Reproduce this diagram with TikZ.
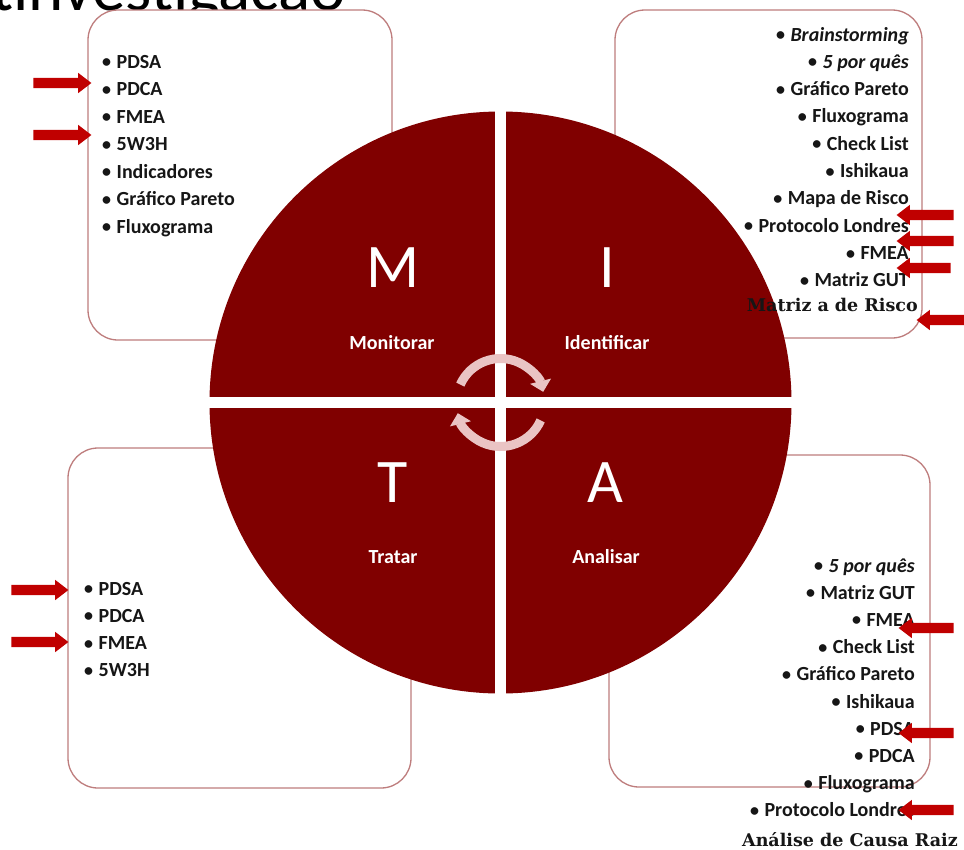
\documentclass[tikz,border=0pt]{standalone}
\usepackage{fontspec}
\setmainfont{Carlito}
\newfontfamily\serifnote{DejaVu Serif}
\usetikzlibrary{arrows.meta,shapes.arrows}
\definecolor{mitared}{RGB}{128,0,0}
\definecolor{boxline}{RGB}{190,125,125}
\definecolor{arred}{RGB}{192,0,0}
\definecolor{cyc}{RGB}{234,196,196}
\definecolor{txt}{RGB}{22,22,22}
\newcommand{\bul}{{\fontsize{18}{18}\selectfont\raisebox{0.5pt}{•}}\hspace{5.5pt}}
\tikzset{
 box/.style={draw=boxline, line width=1.3pt, rounded corners=30pt, fill=white, inner sep=0pt},
 quarter/.style={fill=mitared},
 letter/.style={text=white, font=\fontsize{62}{62}\selectfont, inner sep=0pt},
 sublabel/.style={text=white, font=\bfseries\fontsize{20}{20}\selectfont, inner sep=0pt},
 item/.style={text=txt, font=\bfseries\fontsize{20}{24}\selectfont, inner sep=0pt},
 note/.style={text=txt, font=\serifnote\bfseries\fontsize{17.5}{20}\selectfont, inner sep=0pt},
 redarrow/.style={single arrow, fill=arred, draw=none, minimum width=20pt, single arrow head extend=5pt, single arrow tip angle=75, inner xsep=0pt, inner ysep=5pt},
 leftarrow/.style={redarrow, shape border rotate=180},
 cycarrow/.style={draw=cyc, line width=9pt, -{Triangle[length=11pt,width=21pt]}},
}
\begin{document}
\begin{tikzpicture}[x=1pt,y=-1pt]
\useasboundingbox (0,0) rectangle (964,849);
\clip (0,0) rectangle (964,849);
\fill[white] (0,0) rectangle (964,849);
% title fragment
\node[anchor=base west, inner sep=0pt, font=\fontsize{67}{67}\selectfont] (title) at (-9,10) {tinvestigação};
% boxes
\node[box, minimum width=304pt, minimum height=330pt] (mbox) at (240,175) {};
\node[box, minimum width=307pt, minimum height=328pt] (ibox) at (768.5,174) {};
\node[box, minimum width=343pt, minimum height=340pt] (tbox) at (239.5,618) {};
\node[box, minimum width=321pt, minimum height=332pt] (abox) at (769.5,621) {};
% circle quarters
\coordinate (ctr) at (500.5,402.5);
\begin{scope}
\clip (ctr) circle[radius=291pt];
\fill[quarter] (200,100) rectangle (495,397);
\fill[quarter] (506,100) rectangle (800,397);
\fill[quarter] (200,407.5) rectangle (495,700);
\fill[quarter] (506,407.5) rectangle (800,700);
\end{scope}
% cycle arrows
\draw[cycarrow] ([shift={(156:44pt)}]ctr) arc[start angle=156, end angle=14, radius=44pt];
\draw[cycarrow] ([shift={(-24:44pt)}]ctr) arc[start angle=-24, end angle=-166, radius=44pt];
% letters
\node[letter] (M) at (393,268) {M};
\node[letter] (I) at (607,268) {I};
\node[letter] (T) at (393,483) {T};
\node[letter] (A) at (605,483) {A};
\node[sublabel] (mon) at (392,343) {Monitorar};
\node[sublabel] (ide) at (607,343) {Identificar};
\node[sublabel] (tra) at (393,557) {Tratar};
\node[sublabel] (ana) at (606,557) {Analisar};
% lists
\foreach \t [count=\i] in {PDSA,PDCA,FMEA,5W3H,Indicadores,Gráfico Pareto,Fluxograma}
  \node[item, anchor=base west] (m\i) at (102,{68+27.5*(\i-1)}) {\bul\t};
\foreach \t [count=\i] in {\textit{Brainstorming},\textit{5 por quês},Gráfico Pareto,Fluxograma,Check List,Ishikaua,Mapa de Risco,Protocolo Londres,FMEA,Matriz GUT}
  \node[item, anchor=base east] (i\i) at (909,{41+27.33*(\i-1)}) {\bul\t};
\foreach \t [count=\i] in {PDSA,PDCA,FMEA,5W3H}
  \node[item, anchor=base west] (t\i) at (84,{595+27.3*(\i-1)}) {\bul\t};
\foreach \t [count=\i] in {\textit{5 por quês},Matriz GUT,FMEA,Check List,Gráfico Pareto,Ishikaua,PDSA,PDCA,Fluxograma,Protocolo Londres}
  \node[item, anchor=base east] (a\i) at (915,{572+27.2*(\i-1)}) {\bul\t};
\node[note, anchor=base east] (inote) at (918,311) {Matriz a de Risco};
\node[note, anchor=base east] (anote) at (958,846) {Análise de Causa Raiz};
% red arrows
\node[redarrow, minimum height=58pt] (ra1) at (59,83) {};
\node[redarrow, minimum height=58pt] (ra2) at (59,135) {};
\node[redarrow, minimum height=57pt] (ra3) at (36.5,590) {};
\node[redarrow, minimum height=57pt] (ra4) at (36.5,642) {};
\node[leftarrow, minimum height=57pt] (la1) at (928.5,215) {};
\node[leftarrow, minimum height=57pt] (la2) at (928.5,241) {};
\node[leftarrow, minimum height=54pt] (la3) at (927,268) {};
\node[leftarrow, minimum height=50pt] (la4) at (945,320) {};
\node[leftarrow, minimum height=55pt] (la5) at (929.5,628) {};
\node[leftarrow, minimum height=55pt] (la6) at (929.5,733) {};
\node[leftarrow, minimum height=55pt] (la7) at (929.5,810) {};
\end{tikzpicture}
\end{document}
